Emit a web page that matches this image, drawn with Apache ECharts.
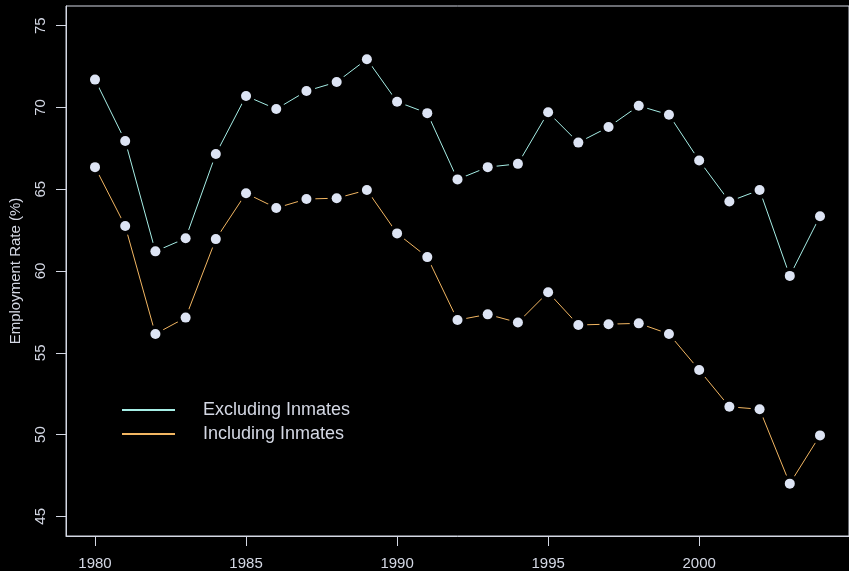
<!DOCTYPE html>
<html>
<head>
<meta charset="utf-8">
<script src="https://cdn.jsdelivr.net/npm/echarts@6/dist/echarts.min.js"></script>
<style>
html,body{margin:0;padding:0;background:#000;}
#chart{width:849px;height:571px;}
</style>
</head>
<body>
<div id="chart"></div>
<script>
var years = [1980,1981,1982,1983,1984,1985,1986,1987,1988,1989,1990,1991,1992,1993,1994,1995,1996,1997,1998,1999,2000,2001,2002,2003,2004];
var excludingInmates = [71.7,67.95,61.2,62.0,67.15,70.7,69.9,71.0,71.55,72.95,70.35,69.65,65.6,66.35,66.55,69.7,67.85,68.8,70.1,69.55,66.75,64.25,64.95,59.7,63.35];
var includingInmates = [66.35,62.75,56.15,57.15,61.95,64.75,63.85,64.4,64.45,64.95,62.3,60.85,57.0,57.35,56.85,58.7,56.7,56.75,56.8,56.15,53.95,51.7,51.55,47.0,49.95];
var xTicks = [1980,1985,1990,1995,2000];
var yTicks = [45,50,55,60,65,70,75];
var seriesNames = ['Excluding Inmates','Including Inmates'];
var lineColors = ['#a6eee6','#f2b662'];

function pairs(vals){ return years.map(function(y,i){ return [y, vals[i]]; }); }

var font = '"Liberation Sans", Arial, Helvetica, sans-serif';
var fg = '#d4d8e4';
var allVals = [excludingInmates, includingInmates];

var series = [];
allVals.forEach(function(v,i){
  series.push({
    name: seriesNames[i], type:'line', data: pairs(v), symbol:'none',
    lineStyle:{color: lineColors[i], width:1}, itemStyle:{color: lineColors[i]},
    z: 2, silent:true
  });
});
allVals.forEach(function(v,i){
  series.push({
    name: 'halo'+i, type:'scatter', data: pairs(v), symbol:'circle', symbolSize:18,
    itemStyle:{color:'#000', opacity:1}, z:3, silent:true
  });
});
allVals.forEach(function(v,i){
  series.push({
    name: 'pts'+i, type:'scatter', data: pairs(v), symbol:'circle', symbolSize:10,
    itemStyle:{color:'#dde4f4', opacity:1}, z:4, silent:true
  });
});

var chart = echarts.init(document.getElementById('chart'), null, {renderer:'canvas'});
chart.setOption({
  backgroundColor:'#000',
  animation:false,
  grid:{left:65, top:6, right:-2, bottom:35, show:true, borderColor:fg, borderWidth:1, backgroundColor:'transparent'},
  legend:{
    data: seriesNames, orient:'vertical', left:117, top:396,
    icon:'rect', itemWidth:53, itemHeight:2, itemGap:6,
    textStyle:{color:fg, fontSize:18, fontFamily:font, lineHeight:18, padding:[0,0,0,23]},
    selectedMode:false
  },
  xAxis:{
    type:'value', min:1979.04, max:2004.96,
    axisLine:{show:true, lineStyle:{color:fg}},
    axisTick:{show:true, length:10, customValues:xTicks, lineStyle:{color:fg}},
    axisLabel:{customValues:xTicks, color:fg, fontSize:15, fontFamily:font, margin:20,
      formatter:function(v){ return String(Math.round(v)); }},
    splitLine:{show:false}
  },
  yAxis:{
    type:'value', min:43.8, max:76.2,
    name:'Employment Rate (%)', nameLocation:'middle', nameRotate:90, nameGap:43,
    nameTextStyle:{color:fg, fontSize:15, fontFamily:font},
    axisLine:{show:true, lineStyle:{color:fg}},
    axisTick:{show:true, length:10, customValues:yTicks, lineStyle:{color:fg}},
    axisLabel:{customValues:yTicks, color:fg, fontSize:15, fontFamily:font, rotate:90, margin:18},
    splitLine:{show:false}
  },
  series: series
});
</script>
</body>
</html>
